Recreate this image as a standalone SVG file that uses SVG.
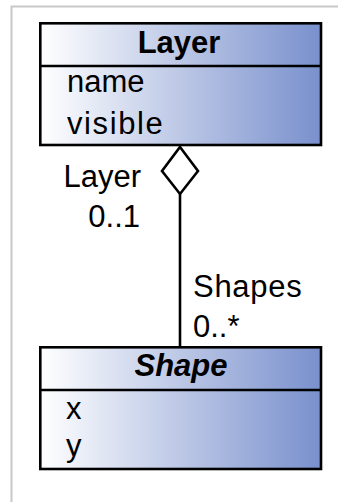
<svg xmlns="http://www.w3.org/2000/svg" width="338" height="502" viewBox="0 0 338 502">
  <defs>
    <linearGradient id="fill" x1="0" y1="0" x2="1" y2="0">
      <stop offset="0" stop-color="#ffffff"/>
      <stop offset="1" stop-color="#7990cd"/>
    </linearGradient>
    <style>
      .box { fill: url(#fill); stroke: #000; stroke-width: 2.6; }
      .div { stroke: #000; stroke-width: 2.6; }
      .t { font-family: "Liberation Sans", Arial, sans-serif; font-size: 31px; fill: #000; }
      .title { font-weight: bold; text-anchor: middle; }
      .edge { stroke: #000; stroke-width: 2.6; fill: none; }
    </style>
  </defs>
  <rect x="0" y="0" width="338" height="502" fill="#ffffff"/>
  <path d="M11.5 502 V6.5 H338" fill="none" stroke="#c8c8c8" stroke-width="2"/>

  <g id="connectors">
    <line class="edge" x1="180" y1="194" x2="180" y2="347"/>
    <polygon class="edge" points="180,147 198,171 180,194 162,171" fill="#fff"/>
    <text class="t" x="141" y="187" text-anchor="end">Layer</text>
    <text class="t" x="140" y="227" text-anchor="end">0..1</text>
    <text class="t" x="193" y="297" letter-spacing="0.7">Shapes</text>
    <text class="t" x="193" y="337">0..*</text>
  </g>

  <g id="Layer">
    <rect class="box" x="40.3" y="23.3" width="280.7" height="121.7"/>
    <line class="div" x1="40.3" y1="66" x2="321" y2="66"/>
    <text class="t title" x="179" y="53">Layer</text>
    <text class="t" x="67" y="92">name</text>
    <text class="t" x="67" y="134" letter-spacing="1.6">visible</text>
  </g>

  <g id="Shape">
    <rect class="box" x="40.3" y="347.3" width="280.7" height="121.7"/>
    <line class="div" x1="40.3" y1="390" x2="321" y2="390"/>
    <text class="t title" x="181" y="376" font-style="italic">Shape</text>
    <text class="t" x="66" y="419">x</text>
    <text class="t" x="66" y="456">y</text>
  </g>
</svg>
